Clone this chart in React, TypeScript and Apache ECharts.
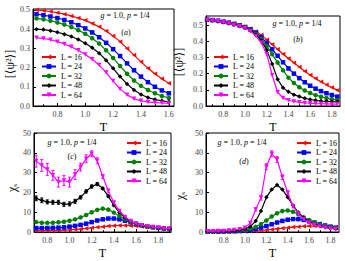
import React, { useEffect, useRef } from "react";
import * as echarts from "echarts";

const FONT = '"Liberation Serif", "DejaVu Serif", serif';

const seriesNames = ["L = 16", "L = 24", "L = 32", "L = 48", "L = 64"];
const colors = ["#ff0000", "#0000ff", "#008000", "#000000", "#ff00ff"];
const symbols = ["triangle", "rect", "circle", "diamond", "triangle"];
const symbolRotations = [90, 0, 0, 0, 180];

// Tick labels
const xMajorA = [0.8, 1.0, 1.2, 1.4, 1.6];
const xMinorA = [0.7, 0.9, 1.1, 1.3, 1.5];
const xMajorB = [0.8, 1.0, 1.2, 1.4, 1.6, 1.8];
const xMinorB = [0.7, 0.9, 1.1, 1.3, 1.5, 1.7];
const xMajorC = [0.8, 1.0, 1.2, 1.4, 1.6, 1.8];
const xMinorC = [0.7, 0.9, 1.1, 1.3, 1.5, 1.7, 1.9];
const xMajorD = [0.8, 1.0, 1.2, 1.4, 1.6, 1.8];
const xMinorD = [0.7, 0.9, 1.1, 1.3, 1.5, 1.7];

// Panel (a)
const tA = [0.65, 0.7, 0.75, 0.8, 0.85, 0.9, 0.95, 1.0, 1.05, 1.1, 1.15, 1.2, 1.25, 1.3, 1.35, 1.4, 1.45, 1.5, 1.55, 1.6];
const a16 = [0.5, 0.497, 0.492, 0.486, 0.478, 0.469, 0.458, 0.446, 0.43, 0.412, 0.39, 0.365, 0.335, 0.3, 0.265, 0.23, 0.197, 0.168, 0.142, 0.118];
const a24 = [0.478, 0.473, 0.466, 0.458, 0.448, 0.436, 0.421, 0.404, 0.383, 0.358, 0.329, 0.296, 0.26, 0.222, 0.186, 0.153, 0.124, 0.1, 0.081, 0.066];
const a32 = [0.456, 0.451, 0.444, 0.435, 0.424, 0.411, 0.395, 0.376, 0.353, 0.325, 0.29, 0.25, 0.208, 0.168, 0.133, 0.105, 0.083, 0.066, 0.052, 0.042];
const a48 = [0.4, 0.398, 0.392, 0.384, 0.374, 0.362, 0.346, 0.327, 0.303, 0.275, 0.238, 0.196, 0.153, 0.115, 0.083, 0.06, 0.044, 0.034, 0.027, 0.022];
const a64 = [0.355, 0.352, 0.345, 0.335, 0.323, 0.308, 0.29, 0.268, 0.243, 0.213, 0.175, 0.13, 0.089, 0.058, 0.038, 0.027, 0.021, 0.018, 0.016, 0.014];

// Panel (b)
const tB = [0.65, 0.7, 0.75, 0.8, 0.85, 0.9, 0.95, 1.0, 1.05, 1.1, 1.15, 1.2, 1.25, 1.3, 1.35, 1.4, 1.45, 1.5, 1.55, 1.6, 1.65, 1.7, 1.75, 1.8, 1.85];
const b16 = [0.535, 0.532, 0.528, 0.523, 0.517, 0.51, 0.501, 0.49, 0.477, 0.46, 0.438, 0.41, 0.38, 0.35, 0.321, 0.294, 0.267, 0.241, 0.215, 0.192, 0.17, 0.15, 0.131, 0.114, 0.098];
const b24 = [0.534, 0.531, 0.527, 0.521, 0.515, 0.507, 0.498, 0.488, 0.473, 0.453, 0.425, 0.39, 0.35, 0.31, 0.27, 0.232, 0.2, 0.172, 0.147, 0.125, 0.107, 0.092, 0.079, 0.068, 0.058];
const b32 = [0.533, 0.53, 0.525, 0.52, 0.513, 0.505, 0.496, 0.486, 0.469, 0.446, 0.413, 0.37, 0.32, 0.268, 0.22, 0.175, 0.142, 0.116, 0.096, 0.08, 0.067, 0.057, 0.049, 0.042, 0.037];
const b48 = [0.533, 0.529, 0.524, 0.518, 0.511, 0.503, 0.494, 0.484, 0.466, 0.44, 0.405, 0.345, 0.26, 0.165, 0.112, 0.088, 0.07, 0.058, 0.048, 0.04, 0.035, 0.031, 0.029, 0.027, 0.026];
const b64 = [0.532, 0.528, 0.523, 0.517, 0.51, 0.501, 0.492, 0.482, 0.462, 0.433, 0.39, 0.32, 0.19, 0.085, 0.05, 0.036, 0.028, 0.023, 0.019, 0.017, 0.015, 0.014, 0.013, 0.012, 0.012];

// Panel (c)
const tC = [0.7, 0.75, 0.8, 0.85, 0.9, 0.95, 1.0, 1.05, 1.1, 1.15, 1.2, 1.25, 1.3, 1.35, 1.4, 1.45, 1.5, 1.55, 1.6, 1.65, 1.7, 1.75, 1.8, 1.85, 1.9];
const c16 = [0.6, 0.65, 0.7, 0.75, 0.85, 0.95, 1.1, 1.3, 1.5, 1.8, 2.1, 2.4, 2.7, 3.0, 3.2, 3.3, 3.3, 3.2, 3.0, 2.8, 2.5, 2.3, 2.0, 1.8, 1.6];
const c24 = [2.0, 2.0, 2.0, 2.1, 2.2, 2.4, 2.7, 3.1, 3.6, 4.2, 5.0, 5.8, 6.4, 6.8, 6.8, 6.4, 5.7, 4.9, 4.1, 3.4, 2.9, 2.4, 2.1, 1.8, 1.6];
const c32 = [5.0, 4.7, 4.6, 4.7, 4.9, 5.2, 5.7, 6.4, 7.4, 8.6, 10.0, 11.2, 11.8, 11.3, 9.8, 8.0, 6.4, 5.1, 4.1, 3.4, 2.8, 2.4, 2.1, 1.8, 1.6];
const c48 = [17.0, 16.0, 15.2, 15.0, 15.0, 14.0, 14.2, 15.5, 17.5, 20.5, 23.0, 24.2, 22.0, 18.0, 13.5, 9.8, 7.2, 5.5, 4.3, 3.5, 2.9, 2.5, 2.2, 1.9, 1.7];
const c64 = [35.8, 33.6, 31.6, 28.6, 25.2, 26.0, 25.2, 29.0, 32.8, 37.0, 39.5, 36.0, 28.0, 20.7, 14.8, 10.6, 7.6, 5.5, 4.2, 3.4, 2.9, 2.5, 2.2, 1.8, 1.7];
const c48err = [1.2, 1.2, 1.0, 1.0, 1.0, 1.0, 1.0, 1.0, 0.8, 0.8, 0.8, 0.8, 0.6, 0.5, 0.4, 0.3, 0.3, 0.2, 0.2, 0.2, 0.2, 0.2, 0.2, 0.2, 0.2];
const c64err = [3.0, 3.0, 3.0, 2.5, 2.5, 2.5, 2.5, 2.5, 2.0, 2.0, 1.5, 1.5, 1.0, 1.0, 0.8, 0.6, 0.5, 0.4, 0.4, 0.3, 0.3, 0.3, 0.3, 0.3, 0.3];

// Panel (d)
const tD = [0.65, 0.7, 0.75, 0.8, 0.85, 0.9, 0.95, 1.0, 1.05, 1.1, 1.15, 1.2, 1.25, 1.3, 1.35, 1.4, 1.45, 1.5, 1.55, 1.6, 1.65, 1.7, 1.75, 1.8, 1.85];
const d16 = [0.1, 0.1, 0.1, 0.12, 0.14, 0.17, 0.22, 0.3, 0.4, 0.55, 0.75, 1.0, 1.3, 1.6, 1.9, 2.2, 2.5, 2.7, 2.9, 3.0, 3.0, 2.9, 2.8, 2.6, 2.4];
const d24 = [0.2, 0.2, 0.22, 0.25, 0.3, 0.38, 0.5, 0.7, 1.0, 1.5, 2.2, 3.0, 3.9, 4.8, 5.6, 6.2, 6.5, 6.5, 6.1, 5.5, 4.8, 4.0, 3.3, 2.7, 2.2];
const d32 = [0.25, 0.27, 0.3, 0.35, 0.43, 0.55, 0.75, 1.0, 1.6, 2.6, 4.0, 5.8, 7.8, 9.5, 10.6, 10.9, 10.2, 8.9, 7.4, 6.0, 4.8, 3.8, 3.0, 2.4, 2.0];
const d48 = [0.3, 0.32, 0.36, 0.42, 0.5, 0.65, 0.95, 1.5, 2.8, 5.5, 10.6, 17.5, 21.5, 23.7, 21.5, 17.5, 13.4, 9.8, 7.2, 5.3, 4.0, 3.1, 2.5, 2.0, 1.7];
const d64 = [0.35, 0.4, 0.45, 0.55, 0.7, 0.95, 1.4, 2.2, 4.5, 11.4, 17.3, 33.0, 39.5, 36.6, 27.7, 19.8, 13.0, 9.2, 6.4, 4.8, 3.6, 2.8, 2.2, 1.8, 1.5];
const d64err = [0.1, 0.1, 0.1, 0.1, 0.1, 0.15, 0.2, 0.3, 0.5, 0.8, 1.2, 1.5, 1.5, 1.5, 1.2, 1.0, 0.8, 0.6, 0.4, 0.3, 0.3, 0.2, 0.2, 0.2, 0.2];

const panelLabel = "{i|g} = 1.0, {i|p} = 1/4";

function lineSeries(idx: number, k: number, T: number[], vals: number[]) {
  return {
    type: "line",
    name: seriesNames[k],
    xAxisIndex: idx,
    yAxisIndex: idx,
    data: T.map((t, i) => [t, vals[i]]),
    symbol: symbols[k],
    symbolSize: 4.5,
    symbolRotate: symbolRotations[k],
    itemStyle: { color: colors[k] },
    lineStyle: { color: colors[k], width: 1.2 },
    z: 3 + k,
  };
}

function errSeries(idx: number, k: number, T: number[], vals: number[], errs: number[]) {
  return {
    type: "custom",
    xAxisIndex: idx,
    yAxisIndex: idx,
    silent: true,
    z: 2,
    data: T.map((t, i) => [t, vals[i] - errs[i], vals[i] + errs[i]]),
    encode: { x: 0, y: [1, 2] },
    renderItem: (params: any, api: any) => {
      const x = api.value(0);
      const p1 = api.coord([x, api.value(1)]);
      const p2 = api.coord([x, api.value(2)]);
      const st = { stroke: colors[k], lineWidth: 1 };
      return {
        type: "group",
        children: [
          { type: "line", shape: { x1: p1[0], y1: p1[1], x2: p2[0], y2: p2[1] }, style: st },
          { type: "line", shape: { x1: p1[0] - 1.5, y1: p1[1], x2: p1[0] + 1.5, y2: p1[1] }, style: st },
          { type: "line", shape: { x1: p2[0] - 1.5, y1: p2[1], x2: p2[0] + 1.5, y2: p2[1] }, style: st },
        ],
      };
    },
  };
}

function xAxis(idx: number, min: number, max: number, majors: number[]) {
  return {
    type: "value",
    gridIndex: idx,
    min,
    max,
    name: "T",
    nameLocation: "middle",
    nameGap: 15,
    nameTextStyle: { fontFamily: FONT, fontSize: 12, color: "#000" },
    axisLine: { show: true, lineStyle: { color: "#000", width: 1 } },
    axisTick: { show: true, inside: true, length: 3, customValues: majors, lineStyle: { color: "#000" } },
    axisLabel: {
      fontFamily: FONT,
      fontSize: 8,
      color: "#444",
      margin: 4,
      customValues: majors,
      formatter: (v: number) => v.toFixed(1),
    },
    splitLine: { show: false },
  };
}

function xMinorAxis(idx: number, min: number, max: number, minors: number[]) {
  return {
    type: "value",
    gridIndex: idx,
    min,
    max,
    position: "bottom",
    axisLine: { show: false },
    axisTick: { show: true, inside: true, length: 1.8, customValues: minors, lineStyle: { color: "#000" } },
    axisLabel: { show: false, customValues: minors },
    splitLine: { show: false },
  };
}

function yAxis(idx: number, max: number, interval: number, digits: number) {
  return {
    type: "value",
    gridIndex: idx,
    min: 0,
    max,
    interval,
    axisLine: { show: true, lineStyle: { color: "#000", width: 1 } },
    axisTick: { show: true, inside: true, length: 3, lineStyle: { color: "#000" } },
    axisLabel: {
      fontFamily: FONT,
      fontSize: 8,
      color: "#444",
      margin: 3,
      showMaxLabel: max % interval === 0,
      formatter: (v: number) => v.toFixed(digits),
    },
    splitLine: { show: false },
  };
}

function legend(left: number, top: number) {
  return {
    left,
    top,
    orient: "vertical",
    data: seriesNames,
    itemWidth: 14,
    itemHeight: 6,
    itemGap: 1.5,
    padding: 0,
    selectedMode: false,
    textStyle: { fontFamily: FONT, fontSize: 8, color: "#000", lineHeight: 8 },
  };
}

const richText = {
  i: { fontFamily: FONT, fontStyle: "italic", fontSize: 8, fill: "#000" },
};

function label(x: number, y: number, text: string) {
  return {
    type: "text",
    x,
    y,
    style: {
      text,
      rich: richText,
      font: `8px ${FONT}`,
      fill: "#000",
      align: "center",
      verticalAlign: "middle",
    },
  };
}

function yName(x: number, y: number, text: string, rich?: any) {
  return {
    type: "text",
    x,
    y,
    rotation: Math.PI / 2,
    style: {
      text,
      rich,
      font: `12px ${FONT}`,
      fill: "#000",
      align: "center",
      verticalAlign: "middle",
    },
  };
}

const chiRich = {
  c: { fontFamily: FONT, fontSize: 12, fill: "#000" },
  s: { fontFamily: FONT, fontSize: 7, fill: "#000", padding: [5, 0, 0, 0] },
};

export default function App() {
  const ref = useRef<HTMLDivElement>(null);
  useEffect(() => {
    if (!ref.current) return;
    const chart = echarts.init(ref.current, undefined, { renderer: "svg" });
    const series: any[] = [];
    const sets: [number, number[], number[][]][] = [
      [0, tA, [a16, a24, a32, a48, a64]],
      [1, tB, [b16, b24, b32, b48, b64]],
      [2, tC, [c16, c24, c32, c48, c64]],
      [3, tD, [d16, d24, d32, d48, d64]],
    ];
    series.push(errSeries(2, 3, tC, c48, c48err));
    series.push(errSeries(2, 4, tC, c64, c64err));
    series.push(errSeries(3, 4, tD, d64, d64err));
    sets.forEach(([idx, T, arrs]) => {
      arrs.forEach((vals, k) => series.push(lineSeries(idx, k, T, vals)));
    });
    const ranges: [number, number, number[], number[]][] = [
      [0.625, 1.637, xMajorA, xMinorA],
      [0.64, 1.875, xMajorB, xMinorB],
      [0.68, 1.915, xMajorC, xMinorC],
      [0.635, 1.88, xMajorD, xMinorD],
    ];
    chart.setOption({
      animation: false,
      grid: [
        { left: 33, top: 9, width: 141, height: 97, show: true, borderColor: "#000", borderWidth: 1 },
        { left: 206, top: 16, width: 134, height: 90, show: true, borderColor: "#000", borderWidth: 1 },
        { left: 34, top: 133, width: 137, height: 99, show: true, borderColor: "#000", borderWidth: 1 },
        { left: 206, top: 133, width: 133, height: 99, show: true, borderColor: "#000", borderWidth: 1 },
      ],
      xAxis: [
        ...ranges.map((r, i) => xAxis(i, r[0], r[1], r[2])),
        ...ranges.map((r, i) => xMinorAxis(i, r[0], r[1], r[3])),
      ],
      yAxis: [yAxis(0, 0.505, 0.1, 1), yAxis(1, 0.556, 0.1, 1), yAxis(2, 50, 10, 0), yAxis(3, 50, 10, 0)],
      legend: [legend(41, 53), legend(213, 53), legend(126, 139), legend(296, 139)],
      graphic: [
        label(125, 15, panelLabel),
        label(126, 32, "({i|a})"),
        label(297, 23, panelLabel),
        label(298, 39, "({i|b})"),
        label(72, 142, panelLabel),
        label(72, 156, "({i|c})"),
        label(242, 142, panelLabel),
        label(244, 161, "({i|d})"),
        yName(10, 64, "[⟨ψ²⟩]"),
        yName(179, 62, "[⟨ψ²⟩]"),
        yName(12, 188, "{c|χ}{s|s}", chiRich),
        yName(180, 196, "{c|χ}{s|s}", chiRich),
      ],
      series,
    });
    return () => chart.dispose();
  }, []);
  return (
    <div
      ref={ref}
      style={{ position: "fixed", left: 0, top: 0, width: 345, height: 261, background: "#fff" }}
    />
  );
}
